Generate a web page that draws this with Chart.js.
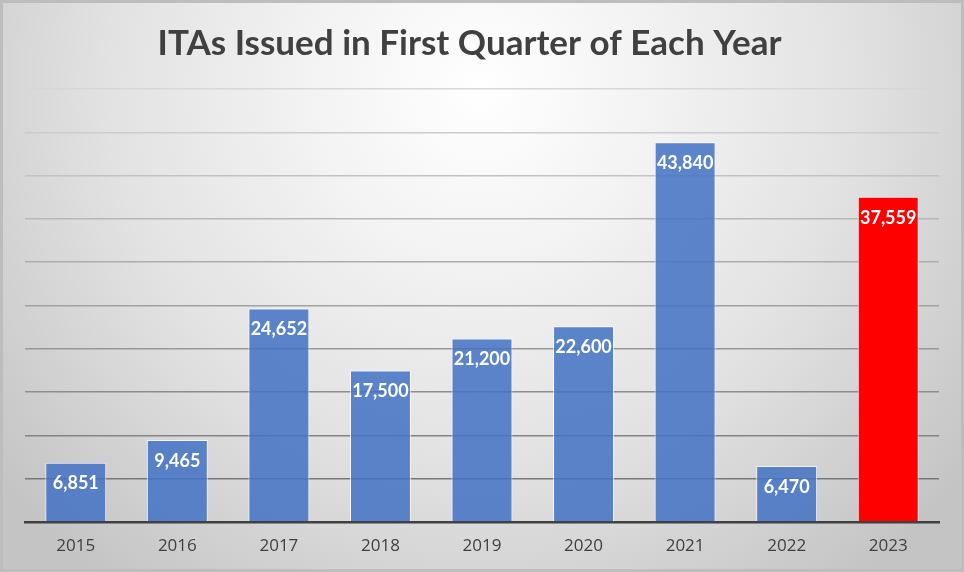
<!DOCTYPE html>
<html>
<head>
<meta charset="utf-8">
<script src="https://cdn.jsdelivr.net/npm/chart.js@4"></script>
<style>
  html, body { margin: 0; padding: 0; background: #fff; }
  #wrap { width: 964px; height: 572px; position: relative; }
</style>
</head>
<body>
<div id="wrap"><canvas id="myChart"></canvas></div>
<script>
// data
const years = ['2015', '2016', '2017', '2018', '2019', '2020', '2021', '2022', '2023']
const itas = [6851, 9465, 24652, 17500, 21200, 22600, 43840, 6470, 37559]
const barColors = ['rgba(68,114,196,0.86)', 'rgba(68,114,196,0.86)', 'rgba(68,114,196,0.86)',
  'rgba(68,114,196,0.86)', 'rgba(68,114,196,0.86)', 'rgba(68,114,196,0.86)',
  'rgba(68,114,196,0.86)', 'rgba(68,114,196,0.86)', '#ff0000']

// radial grey background like the Excel chart
const bgPlugin = {
  id: 'bg',
  beforeDraw: (chart) => {
    const c = chart.ctx
    const w = chart.width, h = chart.height
    const g = c.createRadialGradient(480, 90, 0, 480, 90, 620)
    g.addColorStop(0, '#ffffff')
    g.addColorStop(0.25, '#f4f4f4')
    g.addColorStop(0.6, '#e2e2e2')
    g.addColorStop(1, '#c4c4c4')
    c.save()
    c.fillStyle = g
    c.fillRect(0, 0, w, h)
    c.strokeStyle = '#bdbdbd'
    c.lineWidth = 3
    c.strokeRect(1.5, 1.5, w - 3, h - 3)
    c.restore()
  }
}

// white numbers inside the top of each bar
const labelPlugin = {
  id: 'barLabels',
  afterDraw: (chart) => {
    const c = chart.ctx
    const meta = chart.getDatasetMeta(0)
    c.save()
    c.fillStyle = '#ffffff'
    c.font = 'bold 18px Lato, sans-serif'
    c.textAlign = 'center'
    c.textBaseline = 'middle'
    meta.data.forEach((bar, i) => {
      c.fillText(itas[i].toLocaleString('en-US'), bar.x, bar.y + 21)
    })
    c.restore()
  }
}

const gridShade = (ctx) => {
  const i = ctx.index
  if (i === 0) return '#404040'
  const t = (i - 1) / 9
  const v = Math.round(120 + t * 95)
  return 'rgb(' + v + ',' + v + ',' + v + ')'
}

new Chart(document.getElementById('myChart'), {
  type: 'bar',
  data: {
    labels: years,
    datasets: [{
      data: itas,
      backgroundColor: barColors,
      borderColor: 'rgba(255,255,255,0.75)',
      borderWidth: 1,
      barPercentage: 0.6,
      categoryPercentage: 1
    }]
  },
  options: {
    responsive: true,
    maintainAspectRatio: false,
    animation: false,
    layout: { padding: { left: 0, right: 25, top: 0, bottom: 0 } },
    plugins: {
      legend: { display: false },
      tooltip: { enabled: false },
      title: {
        display: true,
        text: 'ITAs Issued in First Quarter of Each Year',
        color: '#404040',
        font: { family: 'Lato', size: 35, weight: 'bold', lineHeight: 1.2 },
        padding: { top: 23, bottom: 24 }
      }
    },
    scales: {
      x: {
        afterFit: (s) => { s.height = 50 },
        grid: { display: false, drawTicks: false },
        border: { display: true, color: '#404040', width: 2.5 },
        ticks: { color: '#404040', font: { family: 'Open Sans', size: 17 }, padding: 14 }
      },
      y: {
        min: 0,
        max: 50000,
        afterFit: (s) => { s.width = 25 },
        ticks: { display: false, stepSize: 5000 },
        border: { display: false },
        grid: { color: gridShade, lineWidth: 1.5, drawTicks: false }
      }
    }
  },
  plugins: [bgPlugin, labelPlugin]
})
</script>
</body>
</html>
